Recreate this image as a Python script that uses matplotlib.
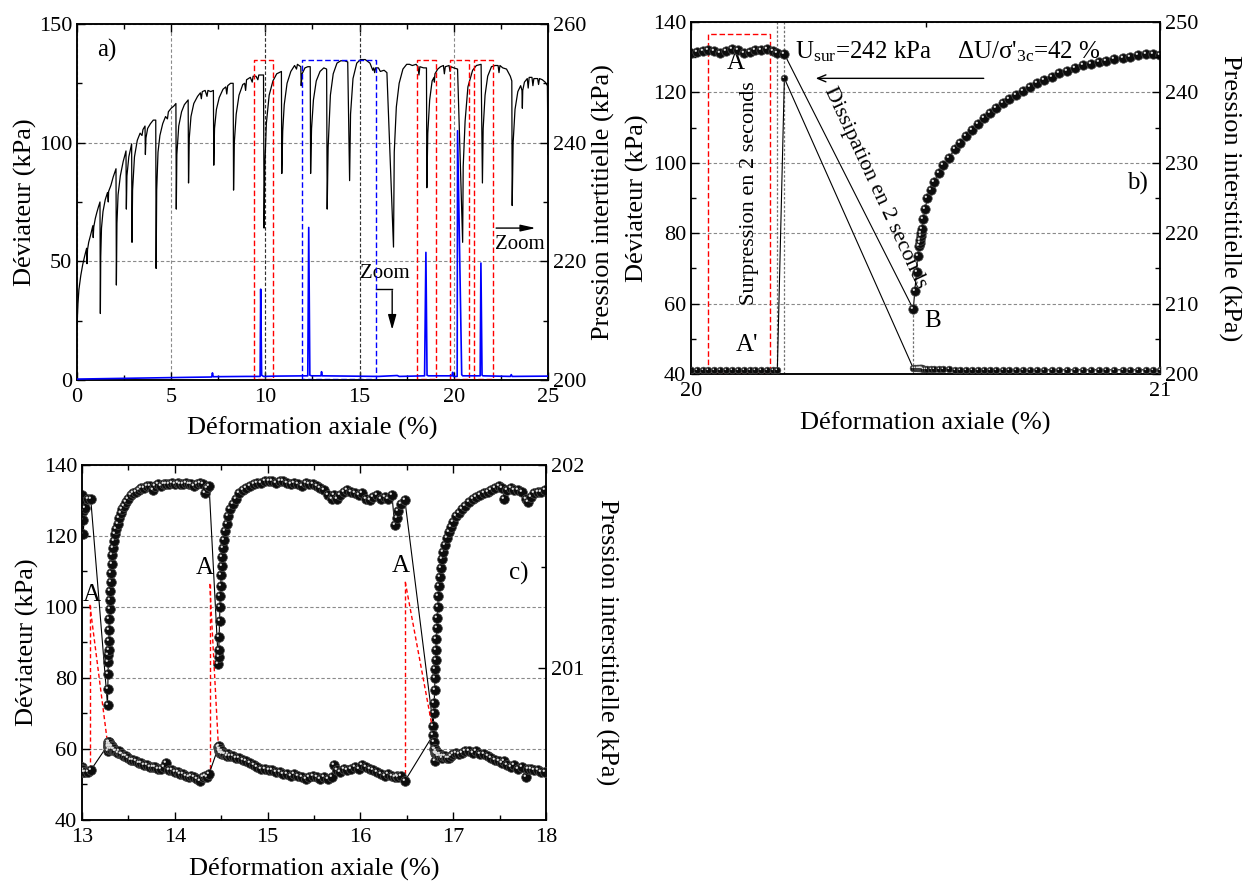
import matplotlib
matplotlib.use('Agg')
import matplotlib.pyplot as plt
from matplotlib.path import Path
from matplotlib.ticker import MultipleLocator

plt.rcParams['font.family'] = ['Liberation Serif', 'DejaVu Serif']
plt.rcParams['mathtext.fontset'] = 'custom'
plt.rcParams['mathtext.rm'] = 'Liberation Serif'
plt.rcParams['mathtext.it'] = 'Liberation Serif:italic'
plt.rcParams['axes.linewidth'] = 1.1

# ---------------- panel a : whole test ----------------
# deviator (kPa) vs axial strain (%)
a_dev = [
    (0.00, 22.0), (0.05, 32.0), (0.10, 38.0), (0.20, 44.0), (0.30, 48.5), (0.40, 52.0), (0.51, 55.5),
    (0.53, 49.0), (0.56, 55.0), (0.62, 58.0), (0.72, 61.0), (0.84, 65.0),
    (0.86, 60.0), (0.89, 64.5), (0.97, 68.0), (1.05, 70.5), (1.14, 73.0), (1.22, 75.0),
    (1.24, 28.0), (1.26, 52.0), (1.30, 64.0), (1.38, 71.0), (1.50, 76.0), (1.62, 79.0), (1.66, 75.0),
    (1.68, 79.5), (1.80, 82.0), (1.92, 85.5), (2.07, 89.0),
    (2.09, 40.0), (2.12, 66.0), (2.18, 78.0), (2.30, 86.0), (2.45, 92.0), (2.60, 96.5),
    (2.62, 72.0), (2.65, 86.0), (2.75, 94.0), (2.90, 99.5),
    (2.92, 58.0), (2.95, 80.0), (3.05, 94.0), (3.20, 101.0), (3.35, 104.0), (3.45, 103.0), (3.50, 105.5), (3.61, 107.0),
    (3.63, 95.0), (3.66, 102.0), (3.75, 106.0), (3.90, 108.0), (4.05, 109.5), (4.18, 109.5),
    (4.20, 47.0), (4.23, 80.0), (4.30, 96.0), (4.40, 103.0), (4.55, 108.0), (4.70, 111.0), (4.80, 110.0),
    (4.85, 113.0), (5.00, 114.5), (5.15, 115.5), (5.25, 116.5),
    (5.27, 72.0), (5.30, 95.0), (5.40, 107.0), (5.55, 113.0), (5.70, 116.0), (5.90, 118.0),
    (5.92, 83.0), (5.96, 102.0), (6.05, 111.0), (6.20, 116.5), (6.40, 119.5), (6.55, 121.0), (6.60, 118.5),
    (6.65, 121.5), (6.80, 122.0), (6.90, 119.5), (6.95, 122.0), (7.10, 121.5), (7.24, 122.0),
    (7.26, 90.5), (7.30, 106.0), (7.40, 114.0), (7.55, 119.0), (7.75, 122.5), (7.90, 123.5), (7.95, 120.5),
    (8.00, 124.0), (8.15, 125.0), (8.29, 125.0),
    (8.31, 80.0), (8.35, 100.0), (8.45, 112.0), (8.60, 120.0), (8.80, 124.5), (8.90, 125.0), (8.95, 122.0),
    (9.00, 126.5), (9.20, 127.5), (9.30, 125.5), (9.35, 128.0), (9.50, 128.0), (9.60, 126.5), (9.65, 128.5), (9.90, 128.5),
    (9.93, 64.0), (9.97, 90.0), (10.05, 108.0), (10.20, 120.0), (10.40, 126.0), (10.60, 129.0), (10.85, 130.0),
    (10.87, 87.0), (10.92, 105.0), (11.00, 116.0), (11.15, 125.0), (11.35, 130.0), (11.55, 132.5), (11.65, 131.0),
    (11.70, 133.0), (11.88, 132.0),
    (11.90, 124.0), (11.95, 129.0), (12.10, 131.5), (12.25, 132.0), (12.38, 132.0),
    (12.40, 87.0), (12.45, 106.0), (12.55, 118.0), (12.70, 126.0), (12.90, 130.0), (13.10, 131.5), (13.25, 131.0),
    (13.28, 72.0), (13.33, 98.0), (13.45, 120.0), (13.60, 129.0), (13.80, 133.5), (14.00, 134.5), (14.20, 134.5), (14.37, 134.0),
    (14.47, 84.0), (14.52, 112.0), (14.65, 127.0), (14.85, 133.5), (15.05, 135.0), (15.30, 135.0), (15.55, 133.5),
    (15.70, 130.5), (15.75, 131.5), (15.80, 129.5), (15.85, 131.5), (16.00, 131.5), (16.10, 130.0), (16.30, 130.5), (16.45, 129.5),
    (16.80, 56.0), (16.84, 96.0), (16.95, 115.0), (17.10, 125.0), (17.30, 131.0), (17.50, 133.0), (17.65, 133.0),
    (17.80, 132.5), (18.00, 133.0), (18.10, 132.0), (18.15, 128.5), (18.20, 132.0), (18.40, 131.5), (18.55, 131.5),
    (18.57, 81.0), (18.62, 104.0), (18.72, 118.0), (18.85, 126.0), (18.95, 127.5),
    (18.97, 125.5), (19.00, 129.0), (19.15, 131.0), (19.30, 132.0), (19.45, 132.5), (19.50, 129.0), (19.55, 132.0),
    (19.75, 132.5), (19.80, 130.0), (19.85, 132.0), (20.00, 131.5), (20.20, 131.0),
    (20.47, 58.0), (20.50, 90.0), (20.60, 109.0), (20.75, 123.5), (21.00, 130.5), (21.20, 132.5), (21.45, 133.0),
    (21.52, 83.0), (21.56, 106.0), (21.66, 120.0), (21.80, 128.0), (22.00, 132.0), (22.20, 132.5), (22.35, 132.5),
    (22.40, 129.5), (22.45, 132.5), (22.60, 131.5), (22.80, 131.0), (23.00, 128.0), (23.08, 126.0),
    (23.10, 73.5), (23.15, 100.0), (23.25, 114.0), (23.40, 121.5), (23.55, 124.0), (23.62, 122.0),
    (23.64, 114.5), (23.66, 122.0), (23.75, 125.5), (23.90, 127.0), (23.95, 123.0), (24.00, 127.5), (24.15, 127.5),
    (24.20, 124.0), (24.25, 127.0), (24.45, 127.0), (24.50, 124.5), (24.55, 127.0), (24.70, 126.5), (24.85, 125.5),
    (24.97, 124.0), (25.00, 95.0),
]
# pore pressure (kPa) vs axial strain (%)
a_pore = [
    (0.0, 200.15), (2.0, 200.25), (4.0, 200.35), (6.0, 200.45), (7.15, 200.5), (7.19, 201.2), (7.23, 200.55),
    (9.0, 200.6), (9.72, 200.6), (9.75, 215.3), (9.80, 200.8), (9.90, 200.6), (10.5, 200.65),
    (12.25, 200.7), (12.30, 225.7), (12.36, 200.8), (12.45, 200.7), (12.95, 200.7), (12.98, 201.4), (13.02, 200.7),
    (16.0, 200.6), (17.0, 200.75), (17.1, 200.6), (18.45, 200.7), (18.52, 221.5), (18.58, 200.8), (18.65, 200.7),
    (19.9, 200.7), (19.94, 201.3), (19.98, 200.6), (20.18, 200.6), (20.20, 242.0), (20.42, 200.9), (20.47, 200.7),
    (21.40, 200.7), (21.44, 219.7), (21.50, 200.8), (21.55, 200.7), (23.0, 200.6), (23.05, 200.9), (23.1, 200.6),
    (25.0, 200.65),
]
a_red_boxes = [(9.38, 10.39), (18.05, 19.07), (19.81, 20.82), (21.08, 22.09)]
a_blue_boxes = [(11.92, 15.86)]
a_box_top = 135.0

# ---------------- panel b : zoom 20-21 % ----------------
# (strain %, deviator kPa, pore pressure kPa)
b_rows = [
    (20.000, 131.3, 200.6), (20.012, 131.5, 200.6), (20.025, 131.7, 200.6), (20.037, 132.0, 200.6),
    (20.050, 131.7, 200.6), (20.062, 131.2, 200.6), (20.075, 131.7, 200.6), (20.087, 132.2, 200.6),
    (20.100, 132.0, 200.6), (20.112, 131.1, 200.6), (20.125, 131.5, 200.6), (20.137, 132.0, 200.6),
    (20.150, 132.0, 200.6), (20.162, 132.2, 200.6), (20.175, 131.8, 200.6), (20.184, 131.3, 200.6),
    (20.199, 130.9, 242.0),
    (20.474, 58.4, 200.8), (20.477, 63.6, 200.8), (20.481, 69.0, 200.9), (20.483, 73.6, 200.85),
    (20.486, 76.5, 200.8), (20.488, 77.3, 200.8), (20.489, 78.0, 200.8), (20.490, 79.1, 200.8),
    (20.491, 80.0, 200.8), (20.492, 81.2, 200.8), (20.495, 84.0, 200.75), (20.499, 87.0, 200.7),
    (20.504, 89.9, 200.7), (20.511, 92.3, 200.7), (20.519, 94.6, 200.7), (20.528, 97.0, 200.65),
    (20.538, 99.4, 200.65), (20.550, 101.4, 200.65), (20.562, 103.8, 200.6), (20.574, 105.7, 200.6),
    (20.587, 107.6, 200.6), (20.600, 109.4, 200.6), (20.612, 111.1, 200.6), (20.625, 112.7, 200.6),
    (20.638, 114.1, 200.6), (20.651, 115.5, 200.6), (20.665, 117.0, 200.6), (20.679, 118.2, 200.6),
    (20.693, 119.3, 200.6), (20.707, 120.5, 200.6), (20.723, 121.5, 200.6), (20.738, 122.6, 200.6),
    (20.753, 123.5, 200.6), (20.769, 124.5, 200.6), (20.785, 125.4, 200.6), (20.802, 126.2, 200.6),
    (20.818, 126.9, 200.6), (20.835, 127.7, 200.6), (20.852, 128.2, 200.6), (20.870, 128.6, 200.6),
    (20.885, 129.0, 200.6), (20.902, 129.4, 200.6), (20.920, 129.7, 200.6), (20.936, 130.1, 200.6),
    (20.953, 130.5, 200.6), (20.970, 130.8, 200.6), (20.986, 130.9, 200.6), (21.000, 130.6, 200.6),
]

# ---------------- panel c : zoom 13-18 % ----------------
# (strain %, deviator kPa, pore pressure kPa)
c_rows = [
    (13.000, 131.5, 200.517), (13.003, 129.5, 200.508), (13.006, 127.0, 200.499), (13.010, 124.5, 200.490),
    (13.013, 120.5, 200.490), (13.030, 128.0, 200.490), (13.060, 130.5, 200.490), (13.094, 130.5, 200.499),
    (13.275, 72.5, 200.621), (13.278, 77.0, 200.639), (13.280, 81.0, 200.613), (13.282, 84.5, 200.595),
    (13.285, 86.5, 200.630), (13.287, 88.0, 200.604), (13.290, 90.5, 200.639), (13.292, 93.5, 200.621),
    (13.295, 96.5, 200.639), (13.298, 99.5, 200.621), (13.302, 102.0, 200.613), (13.306, 104.5, 200.630),
    (13.310, 107.0, 200.621), (13.315, 109.5, 200.604), (13.320, 112.0, 200.621), (13.327, 114.5, 200.613),
    (13.335, 116.5, 200.604), (13.345, 118.5, 200.604), (13.357, 120.5, 200.595), (13.370, 122.0, 200.595),
    (13.385, 123.5, 200.586), (13.400, 125.0, 200.595), (13.418, 126.5, 200.578), (13.435, 127.5, 200.578),
    (13.456, 128.5, 200.569), (13.477, 129.5, 200.569), (13.500, 130.5, 200.560), (13.525, 131.5, 200.551),
    (13.550, 132.0, 200.551), (13.580, 132.5, 200.543), (13.610, 133.0, 200.534), (13.640, 133.5, 200.534),
    (13.670, 133.5, 200.525), (13.700, 134.0, 200.525), (13.730, 134.0, 200.517), (13.760, 133.0, 200.517),
    (13.790, 134.0, 200.517), (13.820, 134.5, 200.508), (13.850, 134.0, 200.508), (13.880, 134.5, 200.517),
    (13.910, 134.5, 200.534), (13.940, 134.5, 200.499), (13.970, 135.0, 200.499), (14.000, 134.5, 200.490),
    (14.030, 135.0, 200.490), (14.060, 134.5, 200.482), (14.090, 134.5, 200.482), (14.120, 135.0, 200.473),
    (14.150, 134.5, 200.464), (14.180, 134.5, 200.473), (14.210, 134.0, 200.464), (14.240, 134.5, 200.455),
    (14.270, 135.0, 200.447), (14.300, 134.5, 200.464), (14.330, 132.0, 200.473), (14.350, 133.5, 200.464),
    (14.370, 134.0, 200.482),
    (14.470, 84.0, 200.613), (14.472, 86.0, 200.621), (14.475, 88.0, 200.604), (14.478, 91.5, 200.595),
    (14.482, 96.0, 200.604), (14.486, 100.0, 200.586), (14.490, 103.0, 200.595), (14.495, 106.0, 200.586),
    (14.500, 109.0, 200.586), (14.506, 111.5, 200.595), (14.513, 114.0, 200.578), (14.522, 116.5, 200.586),
    (14.532, 119.0, 200.578), (14.545, 121.5, 200.578), (14.560, 123.5, 200.569), (14.578, 125.5, 200.578),
    (14.600, 127.5, 200.569), (14.625, 129.0, 200.569), (14.655, 130.5, 200.560), (14.690, 132.0, 200.560),
    (14.730, 133.0, 200.551), (14.770, 133.5, 200.543), (14.810, 134.0, 200.534), (14.850, 134.5, 200.525),
    (14.890, 135.0, 200.517), (14.930, 135.0, 200.508), (14.970, 135.5, 200.508), (15.010, 135.5, 200.499),
    (15.050, 135.5, 200.499), (15.090, 135.0, 200.490), (15.130, 135.5, 200.490), (15.170, 135.5, 200.482),
    (15.210, 135.0, 200.482), (15.250, 134.5, 200.473), (15.290, 135.0, 200.482), (15.330, 134.5, 200.473),
    (15.370, 134.0, 200.464), (15.410, 135.0, 200.455), (15.450, 134.5, 200.464), (15.490, 134.5, 200.473),
    (15.530, 134.0, 200.464), (15.570, 133.5, 200.455), (15.610, 133.0, 200.464), (15.650, 131.5, 200.455),
    (15.690, 130.5, 200.464), (15.720, 131.5, 200.525), (15.750, 130.5, 200.499), (15.780, 131.5, 200.490),
    (15.820, 132.5, 200.508), (15.860, 133.0, 200.499), (15.900, 132.5, 200.508), (15.940, 132.0, 200.517),
    (15.980, 131.5, 200.508), (16.020, 132.0, 200.525), (16.060, 130.5, 200.517), (16.100, 130.0, 200.508),
    (16.140, 131.0, 200.499), (16.180, 131.5, 200.490), (16.220, 130.5, 200.482), (16.260, 131.0, 200.473),
    (16.300, 130.5, 200.482), (16.340, 131.5, 200.473), (16.370, 123.0, 200.464), (16.390, 125.0, 200.473),
    (16.410, 127.0, 200.464), (16.440, 129.0, 200.473), (16.480, 130.0, 200.447),
    (16.785, 66.5, 200.674), (16.790, 70.0, 200.639), (16.795, 73.0, 200.604), (16.800, 76.5, 200.543),
    (16.803, 80.0, 200.586), (16.806, 82.5, 200.604), (16.810, 85.0, 200.595), (16.814, 88.0, 200.586),
    (16.818, 91.0, 200.578), (16.822, 94.0, 200.586), (16.827, 97.0, 200.578), (16.833, 100.0, 200.569),
    (16.840, 103.0, 200.578), (16.848, 106.0, 200.569), (16.857, 108.5, 200.578), (16.868, 111.0, 200.569),
    (16.880, 113.5, 200.560), (16.895, 115.5, 200.569), (16.912, 117.5, 200.569), (16.930, 119.5, 200.560),
    (16.950, 121.0, 200.560), (16.975, 122.5, 200.569), (17.000, 124.0, 200.578), (17.030, 125.5, 200.586),
    (17.060, 126.5, 200.578), (17.095, 127.5, 200.586), (17.130, 128.5, 200.595), (17.170, 129.5, 200.595),
    (17.210, 130.5, 200.586), (17.250, 131.0, 200.595), (17.290, 131.5, 200.578), (17.330, 132.0, 200.578),
    (17.370, 132.5, 200.569), (17.410, 133.0, 200.560), (17.450, 133.5, 200.551), (17.490, 134.0, 200.543),
    (17.530, 133.5, 200.534), (17.550, 130.5, 200.543), (17.580, 133.0, 200.525), (17.620, 133.5, 200.517),
    (17.660, 133.0, 200.525), (17.700, 133.0, 200.508), (17.740, 132.5, 200.517), (17.780, 130.5, 200.464),
    (17.810, 129.5, 200.508), (17.840, 131.0, 200.508), (17.870, 132.0, 200.499), (17.910, 132.5, 200.499),
    (17.950, 132.5, 200.490), (17.990, 133.0, 200.490),
]

GRID = dict(color='#8a8a8a', ls=(0, (3, 2)), lw=0.8)
TICK = 16
LAB = 19
# little white spot drawn on the black balls
SHINE = Path.circle(center=(-0.3, 0.3), radius=0.2)


def balls(ax, x, y, ms, lw=0.8):
    ax.plot(x, y, '-', color='k', lw=lw, zorder=3)
    ax.plot(x, y, 'o', ls='none', mfc='#0d0d0d', mec='#4a4a4a', mew=0.5, ms=ms, zorder=4)
    ax.plot(x, y, ls='none', marker=SHINE, mfc='#e0e0e0', mec='none', ms=ms * 0.6, zorder=5)


def style(ax, axr):
    ax.tick_params(which='both', direction='in', top=True, right=False, labelsize=TICK)
    ax.tick_params(axis='x', which='both', pad=6)
    ax.tick_params(axis='y', which='both', pad=3.5)
    ax.tick_params(which='major', length=6, width=1)
    ax.tick_params(which='minor', length=3.5, width=1)
    axr.tick_params(which='both', direction='in', labelsize=TICK, pad=3.5)
    axr.tick_params(which='major', length=6, width=1)
    axr.tick_params(which='minor', length=3.5, width=1)


fig = plt.figure(figsize=(12.44, 8.88), dpi=100)

# ===== a) =====
ax = fig.add_axes([0.0619, 0.5721, 0.3786, 0.4009])
axr = ax.twinx()
ax.set_xlim(0, 25)
ax.set_ylim(0, 150)
axr.set_ylim(200, 260)
ax.xaxis.set_major_locator(MultipleLocator(5))
ax.xaxis.set_minor_locator(MultipleLocator(2.5))
ax.yaxis.set_major_locator(MultipleLocator(50))
ax.yaxis.set_minor_locator(MultipleLocator(25))
axr.yaxis.set_major_locator(MultipleLocator(20))
axr.yaxis.set_minor_locator(MultipleLocator(10))
style(ax, axr)
ax.grid(True, which='major', **GRID)
ax.set_axisbelow(True)
for xg in (10, 15):
    ax.axvline(xg, color='#303030', ls=(0, (3, 2)), lw=0.8, zorder=1)

ax.plot([p[0] for p in a_dev], [p[1] for p in a_dev], color='k', lw=0.9, zorder=3)
axr.plot([p[0] for p in a_pore], [p[1] for p in a_pore], color='#0000ff', lw=1.2, zorder=3)

for x0, x1 in a_red_boxes:
    ax.plot([x0, x0, x1, x1, x0], [0.3, a_box_top, a_box_top, 0.3, 0.3], color='#ff0000',
            ls=(0, (4, 2)), lw=1.0, zorder=4)
for x0, x1 in a_blue_boxes:
    ax.plot([x0, x0, x1, x1, x0], [0.3, a_box_top, a_box_top, 0.3, 0.3], color='#0000ff',
            ls=(0, (4, 2)), lw=1.0, zorder=4)

ax.text(1.05, 139, 'a)', fontsize=18, va='center', ha='left')
ax.text(15.0, 45, 'Zoom', fontsize=15, va='center', ha='left')
ax.plot([15.87, 16.73], [38.5, 38.5], color='k', lw=1.0)
ax.annotate('', xy=(16.73, 20), xytext=(16.73, 38.8),
            arrowprops=dict(arrowstyle='-|>,head_width=0.25,head_length=0.9', color='k', lw=1.0))
ax.annotate('', xy=(24.5, 64), xytext=(22.1, 64),
            arrowprops=dict(arrowstyle='-|>,head_width=0.2,head_length=0.9', color='k', lw=1.0))
ax.text(22.2, 57, 'Zoom', fontsize=15, va='center', ha='left')

ax.set_xlabel('Déformation axiale (%)', fontsize=LAB, labelpad=7)
ax.set_ylabel('Déviateur (kPa)', fontsize=LAB, labelpad=1)
axr.set_ylabel('Pression intertitielle (kPa)', fontsize=LAB, labelpad=4)

# ===== b) =====
bx = fig.add_axes([0.5555, 0.5788, 0.3770, 0.3964])
bxr = bx.twinx()
bx.set_xlim(20, 21)
bx.set_ylim(40, 140)
bxr.set_ylim(200, 250)
bx.xaxis.set_major_locator(MultipleLocator(1))
bx.xaxis.set_minor_locator(MultipleLocator(0.5))
bx.yaxis.set_major_locator(MultipleLocator(20))
bx.yaxis.set_minor_locator(MultipleLocator(10))
bxr.yaxis.set_major_locator(MultipleLocator(10))
bxr.yaxis.set_minor_locator(MultipleLocator(5))
style(bx, bxr)
bx.grid(True, which='major', axis='y', **GRID)
bx.set_axisbelow(True)

bx_x = [r[0] for r in b_rows]
balls(bx, bx_x, [r[1] for r in b_rows], 6.8)
balls(bxr, bx_x, [r[2] for r in b_rows], 4.8)

DOT = dict(color='#707070', ls=(0, (2, 1.5)), lw=0.9)
bx.plot([20.184, 20.184], [40, 140], **DOT)
bx.plot([20.199, 20.199], [40, 140], **DOT)
bx.plot([20.474, 20.474], [40, 58.4], **DOT)
bx.plot([20.036, 20.036, 20.168, 20.168, 20.036], [40.3, 136.5, 136.5, 40.3, 40.3],
        color='#ff0000', ls=(0, (4, 2)), lw=1.0, zorder=2)

bx.text(20.095, 128.5, 'A', fontsize=18, ha='center', va='center')
bx.text(20.119, 48.3, "A'", fontsize=18, ha='center', va='center')
bx.text(20.515, 55.0, 'B', fontsize=18, ha='center', va='center')
bx.text(20.222, 131.5, r'U$_{\mathrm{sur}}$=242 kPa', fontsize=18, ha='left', va='center')
bx.text(20.568, 131.5, "ΔU/σ'$_{\\mathrm{3c}}$=42 %", fontsize=18, ha='left', va='center')
bx.annotate('', xy=(20.26, 124), xytext=(20.63, 124),
            arrowprops=dict(arrowstyle='->,head_width=0.25,head_length=0.6', color='k', lw=1.0))
bx.text(20.125, 91.5, 'Surpression en 2 seconds', fontsize=16, rotation=90,
        ha='center', va='center')
bx.text(20.392, 93.0, 'Dissipation en 2 seconds', fontsize=16, rotation=-65,
        ha='center', va='center', rotation_mode='anchor')
bx.text(20.93, 94, 'b)', fontsize=18, ha='left', va='center')

bx.set_xlabel('Déformation axiale (%)', fontsize=LAB, labelpad=7.5)
bx.set_ylabel('Déviateur (kPa)', fontsize=LAB, labelpad=3)
bxr.set_ylabel('Pression interstitielle (kPa)', fontsize=LAB, rotation=270, va='bottom', labelpad=14)

# ===== c) =====
cx = fig.add_axes([0.0659, 0.0766, 0.3730, 0.3998])
cxr = cx.twinx()
cx.set_xlim(13, 18)
cx.set_ylim(40, 140)
cxr.set_ylim(200.255, 202)
cx.xaxis.set_major_locator(MultipleLocator(1))
cx.xaxis.set_minor_locator(MultipleLocator(0.5))
cx.yaxis.set_major_locator(MultipleLocator(20))
cx.yaxis.set_minor_locator(MultipleLocator(10))
cxr.yaxis.set_major_locator(MultipleLocator(1))
cxr.yaxis.set_minor_locator(MultipleLocator(0.5))
style(cx, cxr)
cx.grid(True, which='major', axis='y', **GRID)
cx.set_axisbelow(True)

cx_x = [r[0] for r in c_rows]
balls(cx, cx_x, [r[1] for r in c_rows], 7.0)
balls(cxr, cx_x, [r[2] for r in c_rows], 7.0)

RED = dict(color='#ff0000', ls=(0, (3, 2)), lw=1.0, zorder=6)
for (xa, ya), (xb, yb), (xc, yc) in [((13.085, 100.6), (13.085, 54.1), (13.273, 62.1)),
                                     ((14.377, 106.5), (14.377, 53.1), (14.47, 60.7)),
                                     ((16.483, 107.1), (16.483, 50.3), (16.77, 66.8))]:
    cx.plot([xa, xb], [ya, yb], **RED)
    cx.plot([xa, xc], [ya, yc], **RED)
cx.text(13.1, 103.5, 'A', fontsize=18, ha='center', va='center')
cx.text(14.32, 111.0, 'A', fontsize=18, ha='center', va='center')
cx.text(16.44, 111.5, 'A', fontsize=18, ha='center', va='center')
cx.text(17.6, 109.5, 'c)', fontsize=18, ha='left', va='center')

cx.set_xlabel('Déformation axiale (%)', fontsize=LAB, labelpad=7.5)
cx.set_ylabel('Déviateur (kPa)', fontsize=LAB, labelpad=3.5)
cxr.set_ylabel('Pression interstitielle (kPa)', fontsize=LAB, rotation=270, va='bottom', labelpad=8)

fig.savefig('out.png', dpi=100)
